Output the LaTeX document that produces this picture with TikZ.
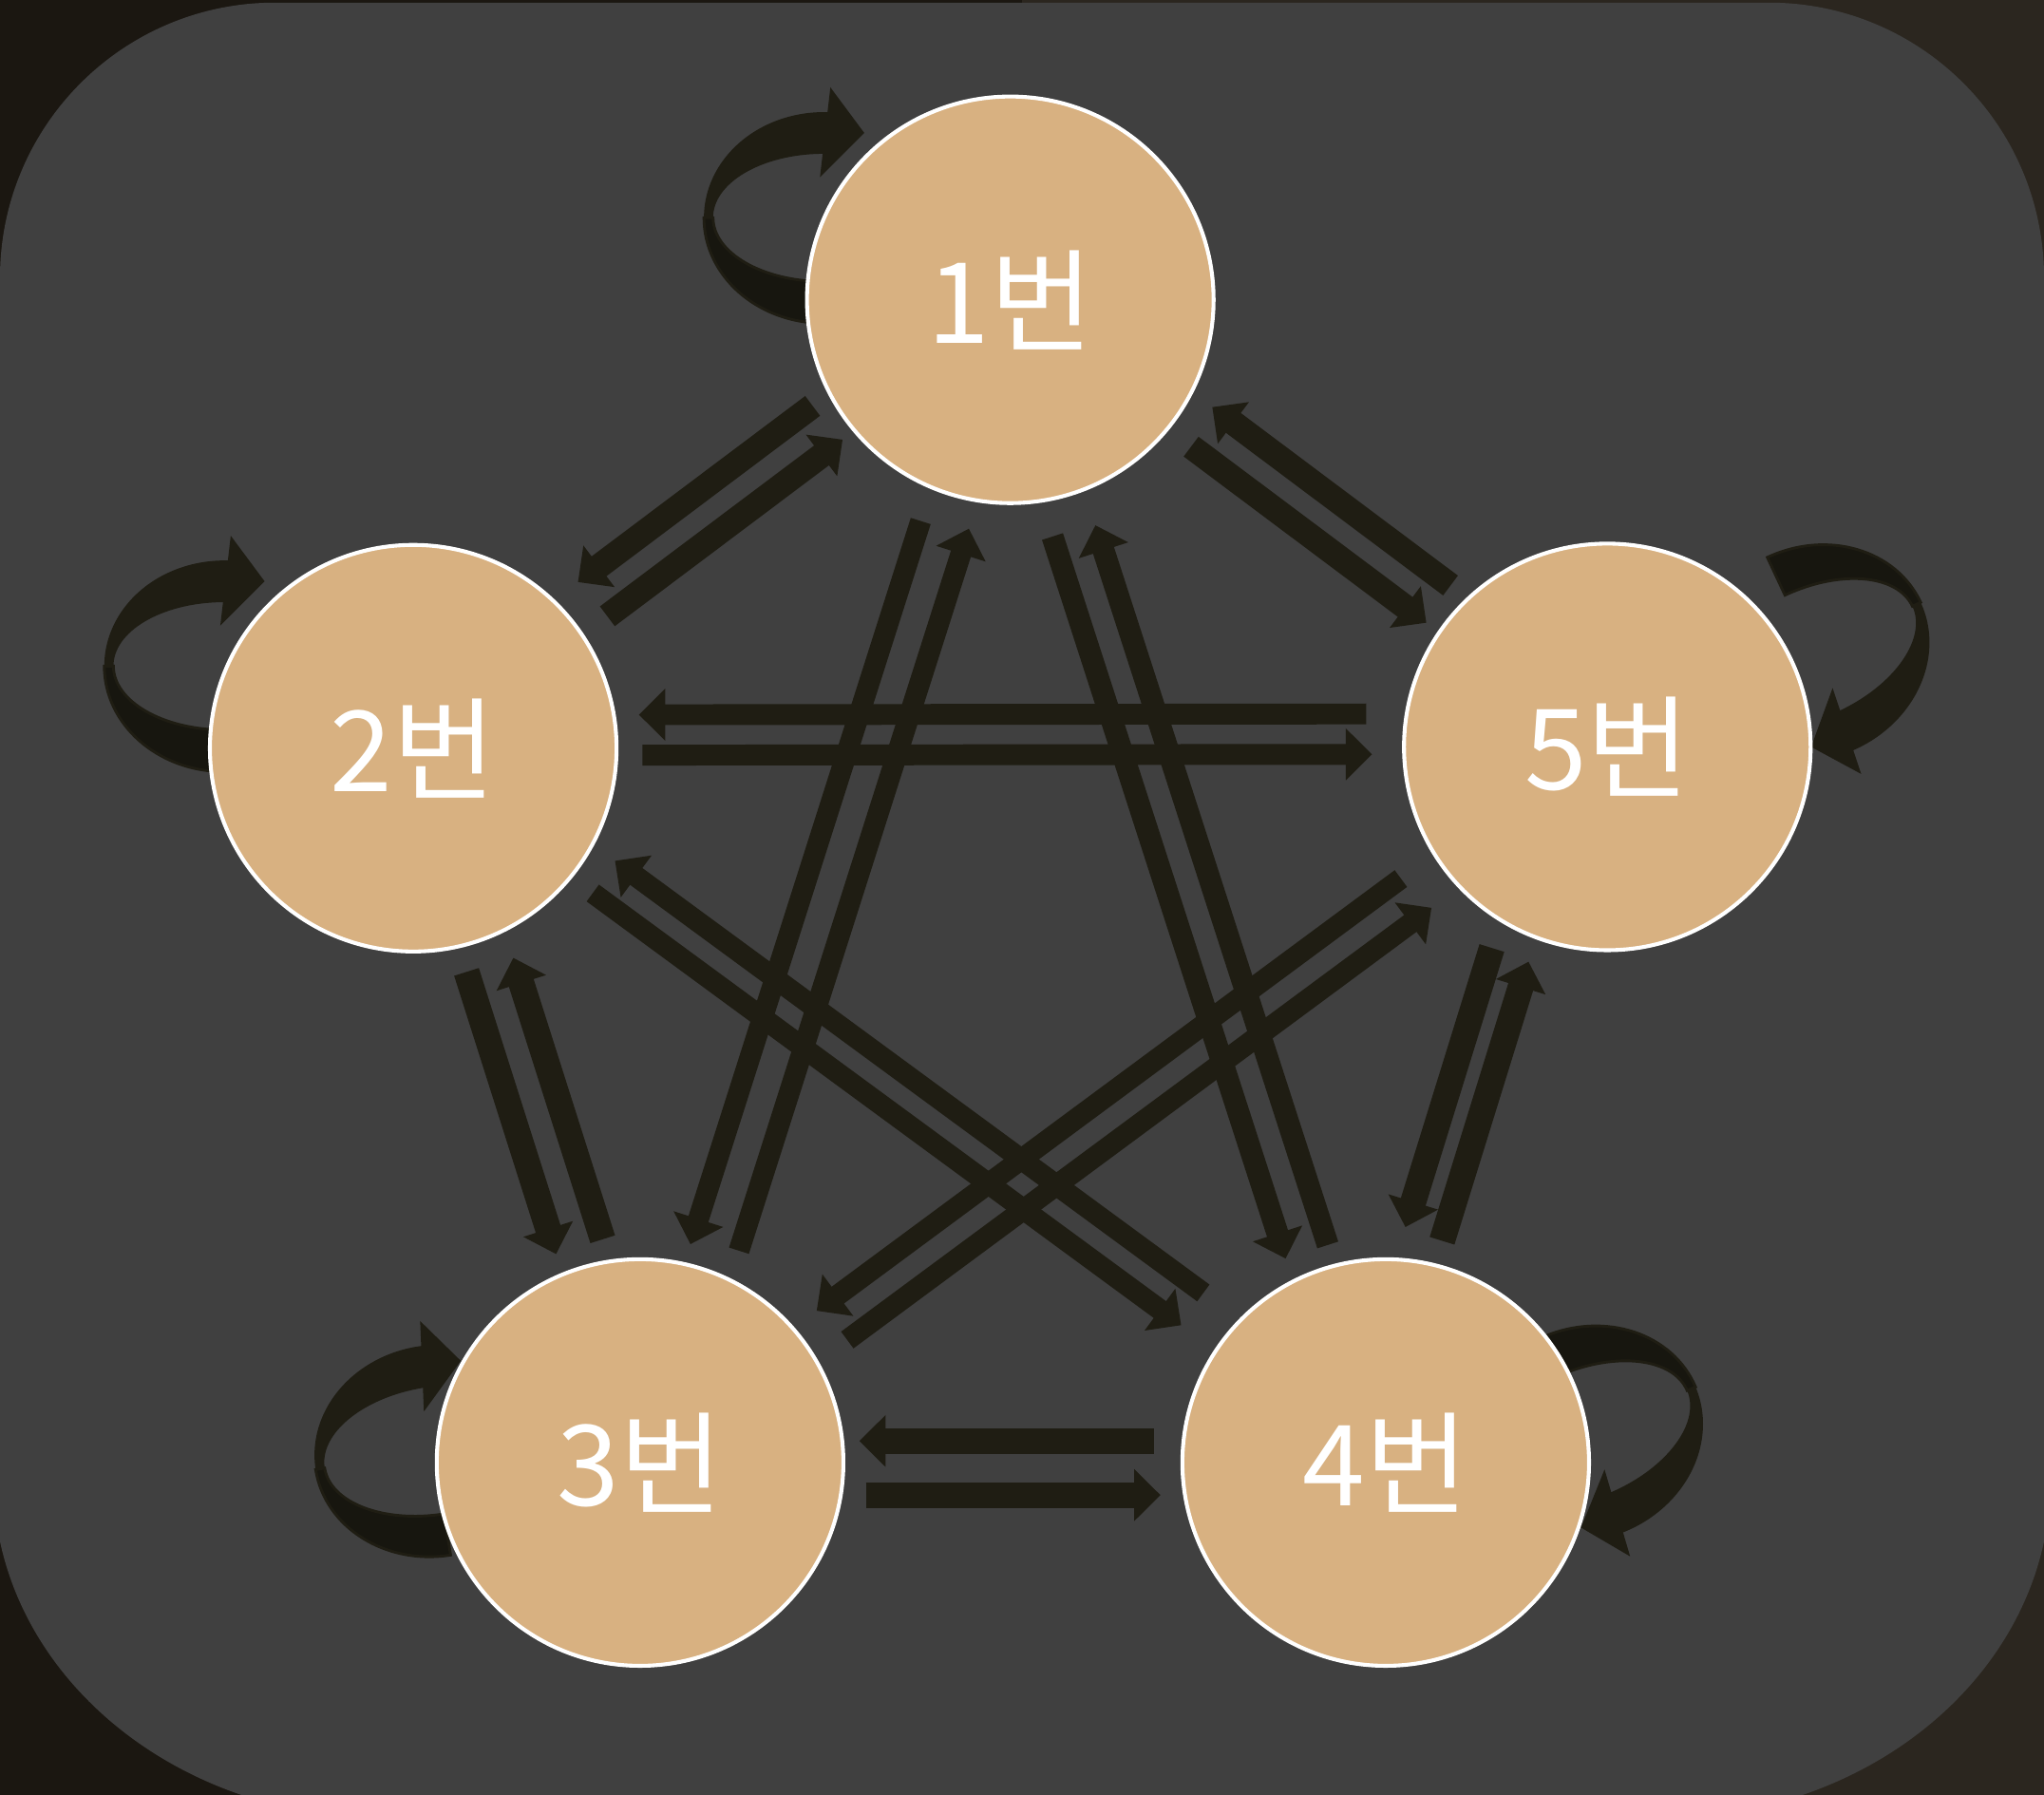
\documentclass[tikz,border=0pt]{standalone}
\usepackage{fontspec}
\newfontfamily\krfont{Noto Sans CJK KR}
\usetikzlibrary{arrows.meta,calc,backgrounds}

\definecolor{panelc}{HTML}{404040}
\definecolor{edgeleft}{HTML}{1B1711}
\definecolor{edgeright}{HTML}{2B261F}
\definecolor{seatc}{HTML}{D8B181}
\definecolor{arrowc}{HTML}{1F1D13}
\definecolor{loopdark}{HTML}{17160F}

\tikzset{
    seat/.style={circle,draw=white,line width=1.7pt,fill=seatc,minimum size=6.24cm,
        inner sep=0pt,text=white,font=\krfont\fontsize{49}{49}\selectfont},
    flow/.style={draw=arrowc,line width=#1,-{Triangle[width=22pt,length=11.5pt]}},
    selfloop/.pic={
        \fill[arrowc] (0,81) arc[start angle=90,end angle=272,x radius=92,y radius=81]
            -- (3,-49) arc[start angle=272,end angle=90,x radius=85,y radius=49] -- cycle;
        \filldraw[fill=loopdark,draw=arrowc,line width=1.2pt] (0,81) arc[start angle=90,end angle=180,x radius=92,y radius=81]
            -- (-85,0) arc[start angle=180,end angle=90,x radius=85,y radius=49] -- cycle;
        \fill[arrowc] (5,-100) -- (31,-65) -- (-3,-31) -- cycle;
    }
}

\begin{document}
\begin{tikzpicture}[x=0.02cm,y=-0.02cm]
    \useasboundingbox (0,0) rectangle (1568,1377);
    % the five seats
    \node[seat] (n1) at (775,230) {1번};
    \node[seat] (n2) at (317,574) {2번};
    \node[seat] (n5) at (1233,573) {5번};
    \node[seat] (n3) at (491,1122) {3번};
    \node[seat] (n4) at (1063,1122) {4번};

    \begin{scope}[on background layer]
        \fill[edgeleft] (0,0) rectangle (784,1377);
        \fill[edgeright] (784,0) rectangle (1568,1377);
        \fill[panelc] (0,213) .. controls (0,96.5) and (94.5,2) .. (211,2) -- (1357,2)
            .. controls (1473.5,2) and (1568,96.5) .. (1568,213) -- (1573,1135)
            .. controls (1573,1278.6) and (1438.7,1395) .. (1273,1395) -- (295,1395)
            .. controls (129.3,1395) and (-5,1278.6) .. (-5,1135) -- cycle;
        % self loops
        \pic at ([shift={(-143,-63)}]n1.center) {selfloop};
        \pic at ([shift={(-145,-63)}]n2.center) {selfloop};
        \pic[rotate=9] at ([shift={(-158,-9)}]n3.center) {selfloop};
        \pic[rotate=-157] at ([shift={(153,-22)}]n4.center) {selfloop};
        \pic[rotate=-155] at ([shift={(157,-72)}]n5.center) {selfloop};
    \end{scope}

    % 1 and 2
    \draw[flow=10.8pt] ($(n1.center)!0.297!(n2.center)!-0.52cm!90:(n2.center)$) -- ($(n1.center)!0.690!(n2.center)!-0.52cm!90:(n2.center)$);
    \draw[flow=10.8pt] ($(n1.center)!0.686!(n2.center)!0.17cm!90:(n2.center)$) -- ($(n1.center)!0.292!(n2.center)!0.17cm!90:(n2.center)$);
    % 1 and 5
    \draw[flow=10.8pt] ($(n1.center)!0.312!(n5.center)!-0.14cm!90:(n5.center)$) -- ($(n1.center)!0.706!(n5.center)!-0.14cm!90:(n5.center)$);
    \draw[flow=10.8pt] ($(n1.center)!0.702!(n5.center)!0.54cm!90:(n5.center)$) -- ($(n1.center)!0.303!(n5.center)!0.54cm!90:(n5.center)$);
    % 2 and 5
    \draw[flow=9.1pt] ($(n2.center)!0.798!(n5.center)!0.51cm!90:(n5.center)$) -- ($(n2.center)!0.189!(n5.center)!0.51cm!90:(n5.center)$);
    \draw[flow=9.1pt] ($(n2.center)!0.192!(n5.center)!-0.11cm!90:(n5.center)$) -- ($(n2.center)!0.803!(n5.center)!-0.11cm!90:(n5.center)$);
    % 2 and 4
    \draw[flow=9.1pt] ($(n2.center)!0.795!(n4.center)!0.44cm!90:(n4.center)$) -- ($(n2.center)!0.190!(n4.center)!0.44cm!90:(n4.center)$);
    \draw[flow=9.1pt] ($(n2.center)!0.191!(n4.center)!-0.16cm!90:(n4.center)$) -- ($(n2.center)!0.796!(n4.center)!-0.16cm!90:(n4.center)$);
    % 5 and 3
    \draw[flow=9.1pt] ($(n5.center)!0.203!(n3.center)!-0.26cm!90:(n3.center)$) -- ($(n5.center)!0.807!(n3.center)!-0.26cm!90:(n3.center)$);
    \draw[flow=9.1pt] ($(n5.center)!0.801!(n3.center)!0.38cm!90:(n3.center)$) -- ($(n5.center)!0.197!(n3.center)!0.38cm!90:(n3.center)$);
    % 1 and 3
    \draw[flow=9.1pt] ($(n1.center)!0.195!(n3.center)!-0.28cm!90:(n3.center)$) -- ($(n1.center)!0.817!(n3.center)!-0.28cm!90:(n3.center)$);
    \draw[flow=9.1pt] ($(n1.center)!0.810!(n3.center)!0.46cm!90:(n3.center)$) -- ($(n1.center)!0.189!(n3.center)!0.46cm!90:(n3.center)$);
    % 1 and 4
    \draw[flow=9.6pt] ($(n1.center)!0.195!(n4.center)!-0.50cm!90:(n4.center)$) -- ($(n1.center)!0.816!(n4.center)!-0.50cm!90:(n4.center)$);
    \draw[flow=9.6pt] ($(n1.center)!0.816!(n4.center)!0.18cm!90:(n4.center)$) -- ($(n1.center)!0.197!(n4.center)!0.18cm!90:(n4.center)$);
    % 2 and 3
    \draw[flow=11.3pt] ($(n2.center)!0.306!(n3.center)!-0.26cm!90:(n3.center)$) -- ($(n2.center)!0.701!(n3.center)!-0.26cm!90:(n3.center)$);
    \draw[flow=11.3pt] ($(n2.center)!0.701!(n3.center)!0.49cm!90:(n3.center)$) -- ($(n2.center)!0.307!(n3.center)!0.49cm!90:(n3.center)$);
    % 5 and 4
    \draw[flow=11.3pt] ($(n5.center)!0.302!(n4.center)!-0.78cm!90:(n4.center)$) -- ($(n5.center)!0.692!(n4.center)!-0.78cm!90:(n4.center)$);
    \draw[flow=11.3pt] ($(n5.center)!0.695!(n4.center)!-0.18cm!90:(n4.center)$) -- ($(n5.center)!0.305!(n4.center)!-0.18cm!90:(n4.center)$);
    % 3 and 4
    \draw[flow=11.3pt] ($(n3.center)!0.689!(n4.center)!0.33cm!90:(n4.center)$) -- ($(n3.center)!0.294!(n4.center)!0.33cm!90:(n4.center)$);
    \draw[flow=11.3pt] ($(n3.center)!0.303!(n4.center)!-0.50cm!90:(n4.center)$) -- ($(n3.center)!0.698!(n4.center)!-0.50cm!90:(n4.center)$);
\end{tikzpicture}
\end{document}
